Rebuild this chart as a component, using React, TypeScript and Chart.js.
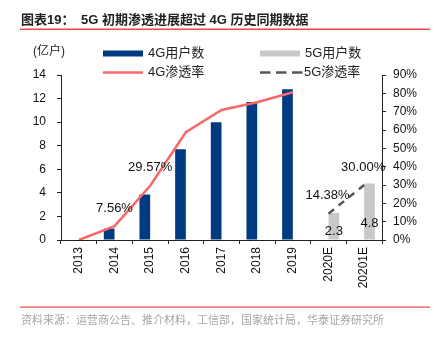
import React, { useEffect, useRef } from "react";
import { Chart, registerables } from "chart.js";

Chart.register(...registerables);

const categories = ["2013", "2014", "2015", "2016", "2017", "2018", "2019", "2020E", "20201E"];
const users4G = [null, 0.97, 3.86, 7.7, 10.0, 11.7, 12.8, null, null];
const users5G = [null, null, null, null, null, null, null, 2.3, 4.8];
const pen4G = [0, 7.56, 29.57, 58.8, 70.9, 75.1, 80.6, null, null];
const pen5G = [null, null, null, null, null, null, null, 14.38, 30.0];
const pen4GLabels = ["", "7.56%", "29.57%", "", "", "", "", "", ""];
const pen5GLabels = ["", "", "", "", "", "", "", "14.38%", "30.00%"];
const users5GLabels = ["", "", "", "", "", "", "", "2.3", "4.8"];
const leftTicks = { min: 0, max: 14, step: 2 };
const rightTicks = { min: 0, max: 90, step: 10 };

const TITLE = "图表19：";
const TITLE2 = "5G 初期渗透进展超过 4G 历史同期数据";
const SOURCE = "资料来源：运营商公告、推介材料，工信部，国家统计局，华泰证券研究所";
const UNIT = "(亿户)";
const LEGEND = ["4G用户数", "5G用户数", "4G渗透率", "5G渗透率"];

const NAVY = "#003A80";
const GREY = "#C8C8C8";
const RED = "#F86868";
const DASH = "#555555";
const FONT = "'Liberation Sans', Arial, 'Noto Sans CJK SC', sans-serif";

const decor = {
  id: "decor",
  afterDraw(chart: any) {
    const ctx = chart.ctx as CanvasRenderingContext2D;
    ctx.save();
    // title
    ctx.fillStyle = "#222";
    ctx.textBaseline = "middle";
    ctx.textAlign = "left";
    ctx.font = `bold 13px ${FONT}`;
    ctx.fillText(TITLE, 21, 20);
    ctx.fillText(TITLE2, 81, 20);
    ctx.fillStyle = "#EE4B46";
    ctx.fillRect(20, 28.5, 410, 1.5);
    ctx.fillRect(20, 306.5, 410, 1.2);
    ctx.fillStyle = "#A6A6A6";
    ctx.font = `11px ${FONT}`;
    ctx.fillText(SOURCE, 21, 321);

    // unit
    ctx.fillStyle = "#222";
    ctx.font = `12px ${FONT}`;
    ctx.fillText(UNIT, 33, 52);

    // legend
    ctx.font = `13px ${FONT}`;
    const lx = [103, 260];
    const ly = [53.5, 72.5];
    ctx.fillStyle = NAVY;
    ctx.fillRect(lx[0], ly[0] - 3, 40, 6);
    ctx.fillStyle = GREY;
    ctx.fillRect(lx[1], ly[0] - 3, 40, 6);
    ctx.strokeStyle = RED;
    ctx.lineWidth = 2.5;
    ctx.beginPath();
    ctx.moveTo(lx[0], ly[1]);
    ctx.lineTo(lx[0] + 40, ly[1]);
    ctx.stroke();
    ctx.strokeStyle = DASH;
    ctx.setLineDash([10.5, 5.5]);
    ctx.beginPath();
    ctx.moveTo(lx[1], ly[1]);
    ctx.lineTo(lx[1] + 43, ly[1]);
    ctx.stroke();
    ctx.setLineDash([]);
    ctx.fillStyle = "#222";
    ctx.fillText(LEGEND[0], lx[0] + 45, ly[0]);
    ctx.fillText(LEGEND[1], lx[1] + 45, ly[0]);
    ctx.fillText(LEGEND[2], lx[0] + 45, ly[1]);
    ctx.fillText(LEGEND[3], lx[1] + 44, ly[1]);

    // data labels
    const xs = chart.scales.x;
    const y = chart.scales.y;
    const y1 = chart.scales.y1;
    ctx.textAlign = "center";
    ctx.font = `13px ${FONT}`;
    ctx.fillStyle = "#111";
    categories.forEach((_, i) => {
      const cx = xs.getPixelForValue(i);
      if (pen4GLabels[i] && pen4G[i] != null) {
        ctx.fillText(pen4GLabels[i], cx, y1.getPixelForValue(pen4G[i] as number) - 18);
      }
      if (pen5GLabels[i] && pen5G[i] != null) {
        ctx.fillText(pen5GLabels[i], cx - 1, y1.getPixelForValue(pen5G[i] as number) - 18);
      }
      if (users5GLabels[i] && users5G[i] != null) {
        const meta = chart.getDatasetMeta(1);
        const bar = meta.data[i];
        ctx.fillText(users5GLabels[i], bar.x, y.getPixelForValue((users5G[i] as number) * 0.3));
      }
    });
    ctx.restore();
  },
};

export default function App() {
  const ref = useRef<HTMLCanvasElement>(null);
  useEffect(() => {
    if (!ref.current) return;
    const chart = new Chart(ref.current, {
      type: "bar",
      data: {
        labels: categories,
        datasets: [
          { type: "bar", label: LEGEND[0], data: users4G as any, backgroundColor: NAVY, yAxisID: "y", order: 2, categoryPercentage: 0.6, barPercentage: 1.0 },
          { type: "bar", label: LEGEND[1], data: users5G as any, backgroundColor: GREY, yAxisID: "y", order: 2, categoryPercentage: 0.6, barPercentage: 1.0 },
          { type: "line", label: LEGEND[2], data: pen4G as any, borderColor: RED, borderWidth: 2.5, pointRadius: 0, yAxisID: "y1", order: 1, spanGaps: false, tension: 0 },
          { type: "line", label: LEGEND[3], data: pen5G as any, borderColor: DASH, borderWidth: 2.5, borderDash: [7, 6], pointRadius: 0, yAxisID: "y1", order: 1, tension: 0 },
        ],
      },
      options: {
        responsive: false,
        animation: false,
        layout: { padding: { top: 75, left: 0, right: 0, bottom: 0 } },
        plugins: { legend: { display: false }, title: { display: false }, tooltip: { enabled: false } },
        scales: {
          x: {
            offset: true,
            grid: { display: true, drawOnChartArea: false, drawTicks: true, tickLength: 4, color: "#222", offset: true },
            border: { display: true, color: "#222", width: 1 },
            ticks: { color: "#111", font: { size: 12, family: FONT }, maxRotation: 90, minRotation: 90, padding: 3, autoSkip: false },
            afterFit(s: any) { s.height = 98; },
          },
          y: {
            position: "left",
            min: leftTicks.min,
            max: leftTicks.max,
            grid: { display: true, drawOnChartArea: false, drawTicks: true, tickLength: 4, color: "#222" },
            border: { display: true, color: "#222", width: 1 },
            ticks: { stepSize: leftTicks.step, color: "#111", font: { size: 12, family: FONT }, padding: 11 },
            afterFit(s: any) { s.width = 61; },
          },
          y1: {
            position: "right",
            min: rightTicks.min,
            max: rightTicks.max,
            grid: { display: true, drawOnChartArea: false, drawTicks: true, tickLength: 4, color: "#222" },
            border: { display: true, color: "#222", width: 1 },
            ticks: { stepSize: rightTicks.step, color: "#111", font: { size: 12, family: FONT }, padding: 7, callback: (v: any) => `${v}%` },
            afterFit(s: any) { s.width = 56; },
          },
        },
      },
      plugins: [decor],
    });
    return () => chart.destroy();
  }, []);
  return (
    <div style={{ position: "absolute", left: 0, top: 0, width: 438, height: 338, background: "#fff" }}>
      <canvas ref={ref} width={438} height={338} style={{ width: 438, height: 338, display: "block" }} />
    </div>
  );
}
